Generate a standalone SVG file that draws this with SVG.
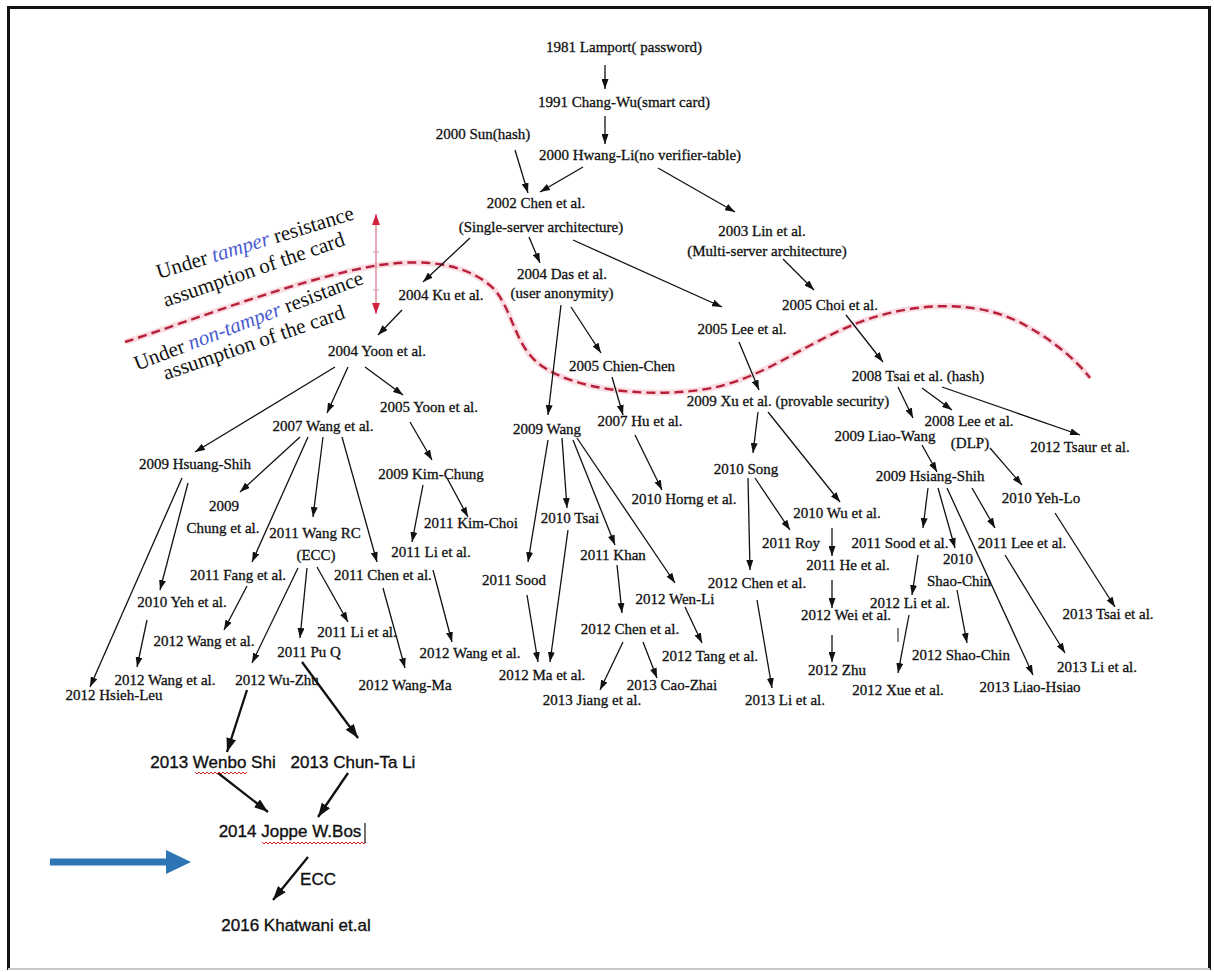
<svg xmlns="http://www.w3.org/2000/svg" width="1214" height="972" viewBox="0 0 1214 972">
  <style>
    .t { font-family: "Liberation Serif", "Times New Roman", serif; font-size: 15px; fill: #111; text-anchor: middle; stroke: #111; stroke-width: 0.3; }
    .s { font-family: "Liberation Sans", Arial, sans-serif; font-size: 17px; fill: #111; text-anchor: middle; stroke: #111; stroke-width: 0.35; }
    .lbl { font-family: "Liberation Serif", "Times New Roman", serif; font-size: 21px; fill: #111; text-anchor: middle; }
    .blue { fill: #4a5bd0; font-style: italic; }
    .c { stroke: #111; stroke-width: 1.3; fill: none; marker-end: url(#ah); }
    .ck { stroke: #111; stroke-width: 2.3; fill: none; marker-end: url(#ahk); }
    .wave { stroke: #d42020; stroke-width: 1; fill: none; }
  </style>
  <defs>
    <marker id="ah" viewBox="0 0 10 7" refX="10" refY="3.5" markerWidth="10" markerHeight="7" markerUnits="userSpaceOnUse" orient="auto">
      <path d="M0,0L10,3.5L0,7z" fill="#111"/>
    </marker>
    <marker id="ahk" viewBox="0 0 14 10" refX="14" refY="5" markerWidth="14" markerHeight="10" markerUnits="userSpaceOnUse" orient="auto">
      <path d="M0,0L14,5L0,10z" fill="#111"/>
    </marker>
    <marker id="ahr" viewBox="0 0 11 8" refX="11" refY="4" markerWidth="11" markerHeight="8" markerUnits="userSpaceOnUse" orient="auto-start-reverse">
      <path d="M0,0L11,4L0,8z" fill="#d0203a"/>
    </marker>
  </defs>

  <!-- page frame -->
  <rect x="0" y="0" width="1214" height="972" fill="#fff"/>
  <line x1="8" y1="7.5" x2="1210" y2="7.5" stroke="#111" stroke-width="3"/>
  <line x1="8.5" y1="6" x2="8.5" y2="970" stroke="#111" stroke-width="3"/>
  <line x1="1209.5" y1="6" x2="1209.5" y2="970" stroke="#111" stroke-width="3"/>
  <line x1="8" y1="969" x2="1210" y2="969" stroke="#c8c8c8" stroke-width="2"/>

  <!-- tamper-resistance boundary -->
  <g id="boundary">
    <path d="M125,342 C200,318 300,278 380,265 C430,258 470,265 495,290 C515,315 515,350 545,368 C575,388 640,398 700,390 C760,382 800,345 860,322 C920,300 985,300 1030,328 C1060,345 1080,365 1090,378" fill="none" stroke="#f6c6cf" stroke-width="6" stroke-opacity="0.6"/>
    <path d="M125,342 C200,318 300,278 380,265 C430,258 470,265 495,290 C515,315 515,350 545,368 C575,388 640,398 700,390 C760,382 800,345 860,322 C920,300 985,300 1030,328 C1060,345 1080,365 1090,378" fill="none" stroke="#b8203a" stroke-width="2.4" stroke-dasharray="9 5"/>
    <line x1="376" y1="214" x2="376" y2="314" stroke="#e07f8e" stroke-width="1.3" marker-start="url(#ahr)" marker-end="url(#ahr)"/>
    <line x1="373" y1="252" x2="379" y2="252" stroke="#c89aa0" stroke-width="1"/>
    <line x1="373" y1="290" x2="379" y2="290" stroke="#c89aa0" stroke-width="1"/>
    <text class="lbl" transform="translate(257,249) rotate(-17)">Under <tspan class="blue">tamper</tspan> resistance</text>
    <text class="lbl" transform="translate(256,276) rotate(-19)">assumption of the card</text>
    <text class="lbl" transform="translate(251,327) rotate(-21)">Under <tspan class="blue">non-tamper</tspan> resistance</text>
    <text class="lbl" transform="translate(256,349) rotate(-19)">assumption of the card</text>
  </g>

  <!-- connectors -->
  <g id="connectors">
    <line class="c" x1="605" y1="65" x2="605" y2="89"/>
    <line class="c" x1="605" y1="116" x2="605" y2="144"/>
    <line class="c" x1="515" y1="150" x2="528" y2="193"/>
    <line class="c" x1="583" y1="167" x2="540" y2="192"/>
    <line class="c" x1="658" y1="168" x2="735" y2="212"/>
    <line class="c" x1="529" y1="237" x2="540" y2="263"/>
    <line class="c" x1="573" y1="240" x2="722" y2="307"/>
    <line class="c" x1="470" y1="238" x2="423" y2="282"/>
    <line class="c" x1="783" y1="259" x2="814" y2="290"/>
    <line class="c" x1="571" y1="307" x2="601" y2="353"/>
    <line class="c" x1="561" y1="305" x2="548" y2="415"/>
    <line class="c" x1="846" y1="315" x2="883" y2="362"/>
    <line class="c" x1="739" y1="342" x2="759" y2="390"/>
    <line class="c" x1="402" y1="310" x2="378" y2="335"/>
    <line class="c" x1="335" y1="367" x2="195" y2="452"/>
    <line class="c" x1="348" y1="367" x2="327" y2="413"/>
    <line class="c" x1="365" y1="367" x2="403" y2="395"/>
    <line class="c" x1="410" y1="422" x2="432" y2="460"/>
    <line class="c" x1="300" y1="437" x2="240" y2="492"/>
    <line class="c" x1="308" y1="437" x2="252" y2="562"/>
    <line class="c" x1="323" y1="437" x2="313" y2="517"/>
    <line class="c" x1="342" y1="437" x2="377" y2="562"/>
    <line class="c" x1="447" y1="478" x2="468" y2="517"/>
    <line class="c" x1="423" y1="485" x2="412" y2="542"/>
    <line class="c" x1="188" y1="483" x2="160" y2="590"/>
    <line class="c" x1="182" y1="478" x2="90" y2="687"/>
    <line class="c" x1="247" y1="586" x2="224" y2="630"/>
    <line class="c" x1="298" y1="568" x2="252" y2="663"/>
    <line class="c" x1="307" y1="568" x2="300" y2="638"/>
    <line class="c" x1="317" y1="567" x2="348" y2="622"/>
    <line class="c" x1="147" y1="620" x2="137" y2="667"/>
    <line class="c" x1="383" y1="588" x2="405" y2="668"/>
    <line class="c" x1="433" y1="570" x2="452" y2="642"/>
    <line class="ck" x1="302" y1="662" x2="358" y2="738"/>
    <line class="ck" x1="247" y1="690" x2="227" y2="752"/>
    <line class="ck" x1="218" y1="773" x2="268" y2="812"/>
    <line class="ck" x1="348" y1="773" x2="318" y2="817"/>
    <line class="ck" x1="308" y1="857" x2="273" y2="900" stroke-width="1.8"/>
    <line class="c" x1="612" y1="377" x2="623" y2="415"/>
    <line class="c" x1="635" y1="435" x2="662" y2="490"/>
    <line class="c" x1="548" y1="440" x2="528" y2="562"/>
    <line class="c" x1="562" y1="438" x2="567" y2="508"/>
    <line class="c" x1="573" y1="440" x2="615" y2="545"/>
    <line class="c" x1="577" y1="438" x2="675" y2="583"/>
    <line class="c" x1="617" y1="565" x2="622" y2="613"/>
    <line class="c" x1="568" y1="530" x2="550" y2="662"/>
    <line class="c" x1="527" y1="595" x2="538" y2="662"/>
    <line class="c" x1="685" y1="607" x2="702" y2="643"/>
    <line class="c" x1="623" y1="642" x2="600" y2="690"/>
    <line class="c" x1="643" y1="642" x2="657" y2="678"/>
    <line class="c" x1="758" y1="412" x2="753" y2="453"/>
    <line class="c" x1="768" y1="412" x2="840" y2="502"/>
    <line class="c" x1="755" y1="478" x2="790" y2="530"/>
    <line class="c" x1="748" y1="478" x2="750" y2="570"/>
    <line class="c" x1="757" y1="600" x2="772" y2="688"/>
    <line class="c" x1="832" y1="528" x2="832" y2="556"/>
    <line class="c" x1="832" y1="580" x2="832" y2="608"/>
    <line class="c" x1="832" y1="635" x2="832" y2="662"/>
    <line class="c" x1="898" y1="387" x2="913" y2="418"/>
    <line class="c" x1="922" y1="388" x2="952" y2="410"/>
    <line class="c" x1="942" y1="387" x2="1080" y2="435"/>
    <line class="c" x1="922" y1="445" x2="937" y2="472"/>
    <line class="c" x1="990" y1="448" x2="1022" y2="485"/>
    <line class="c" x1="928" y1="488" x2="923" y2="528"/>
    <line class="c" x1="938" y1="488" x2="955" y2="548"/>
    <line class="c" x1="947" y1="488" x2="1033" y2="675"/>
    <line class="c" x1="972" y1="488" x2="995" y2="528"/>
    <line class="c" x1="918" y1="555" x2="912" y2="595"/>
    <line class="c" x1="909" y1="615" x2="898" y2="673"/>
    <line class="c" x1="957" y1="590" x2="967" y2="643"/>
    <line class="c" x1="1005" y1="555" x2="1065" y2="653"/>
    <line class="c" x1="1055" y1="513" x2="1115" y2="607"/>
    <line x1="898" y1="628" x2="898" y2="642" stroke="#111" stroke-width="1"/>
    <!-- blue pointer -->
    <rect x="50" y="858.5" width="120" height="7" fill="#2e75b6"/>
    <path d="M166,850 L191,862 L166,874 Z" fill="#2e75b6"/>
  </g>

  <!-- nodes -->
  <g id="n1981"><text class="t" x="624" y="52">1981 Lamport( password)</text></g>
  <g id="n1991"><text class="t" x="624" y="107">1991 Chang-Wu(smart card)</text></g>
  <g id="n2000sun"><text class="t" x="483" y="139">2000 Sun(hash)</text></g>
  <g id="n2000hl"><text class="t" x="640" y="160">2000 Hwang-Li(no verifier-table)</text></g>
  <g id="n2002chen"><text class="t" x="536" y="208">2002 Chen et al.</text><text class="t" x="541" y="232">(Single-server architecture)</text></g>
  <g id="n2003lin"><text class="t" x="762" y="236">2003 Lin et al.</text><text class="t" x="767" y="256">(Multi-server architecture)</text></g>
  <g id="n2004das"><text class="t" x="562" y="279">2004 Das et al.</text><text class="t" x="562" y="298">(user anonymity)</text></g>
  <g id="n2004ku"><text class="t" x="441" y="300">2004 Ku et al.</text></g>
  <g id="n2004yoon"><text class="t" x="377" y="356">2004 Yoon et al.</text></g>
  <g id="n2005choi"><text class="t" x="830" y="310">2005 Choi et al.</text></g>
  <g id="n2005lee"><text class="t" x="742" y="334">2005 Lee et al.</text></g>
  <g id="n2005chien"><text class="t" x="622" y="371">2005 Chien-Chen</text></g>
  <g id="n2008tsai"><text class="t" x="918" y="381">2008 Tsai et al. (hash)</text></g>
  <g id="n2009xu"><text class="t" x="788" y="406">2009 Xu et al. (provable security)</text></g>
  <g id="n2005yoon"><text class="t" x="429" y="412">2005 Yoon  et al.</text></g>
  <g id="n2007wang"><text class="t" x="323" y="431">2007 Wang  et al.</text></g>
  <g id="n2009hs"><text class="t" x="195" y="469">2009 Hsuang-Shih</text></g>
  <g id="n2009kim"><text class="t" x="431" y="479">2009 Kim-Chung</text></g>
  <g id="n2009chung"><text class="t" x="224" y="511">2009</text><text class="t" x="223" y="533">Chung et al.</text></g>
  <g id="n2011wangrc"><text class="t" x="315" y="538">2011 Wang RC</text><text class="t" x="316" y="560">(ECC)</text></g>
  <g id="n2011kimchoi"><text class="t" x="471" y="528">2011 Kim-Choi</text></g>
  <g id="n2011li"><text class="t" x="431" y="557">2011 Li et al.</text></g>
  <g id="n2011fang"><text class="t" x="238" y="580">2011 Fang et al.</text></g>
  <g id="n2011chen"><text class="t" x="383" y="580">2011 Chen et al.</text></g>
  <g id="n2010yeh"><text class="t" x="182" y="607">2010 Yeh et al.</text></g>
  <g id="n2011li2"><text class="t" x="357" y="637">2011 Li et al.</text></g>
  <g id="n2011pu"><text class="t" x="309" y="657">2011 Pu Q</text></g>
  <g id="n2012wang1"><text class="t" x="204" y="646">2012 Wang et al.</text></g>
  <g id="n2012wang2"><text class="t" x="165" y="685">2012 Wang et al.</text></g>
  <g id="n2012hsieh"><text class="t" x="114" y="700">2012 Hsieh-Leu</text></g>
  <g id="n2012wuzhu"><text class="t" x="277" y="685">2012 Wu-Zhu</text></g>
  <g id="n2012wangma"><text class="t" x="405" y="690">2012 Wang-Ma</text></g>
  <g id="n2012wang3"><text class="t" x="470" y="658">2012 Wang et al.</text></g>
  <g id="n2009wang"><text class="t" x="547" y="434">2009 Wang</text></g>
  <g id="n2007hu"><text class="t" x="640" y="426">2007 Hu et al.</text></g>
  <g id="n2010horng"><text class="t" x="684" y="504">2010 Horng et al.</text></g>
  <g id="n2011sood"><text class="t" x="514" y="585">2011 Sood</text></g>
  <g id="n2010tsai"><text class="t" x="570" y="523">2010 Tsai</text></g>
  <g id="n2011khan"><text class="t" x="613" y="560">2011 Khan</text></g>
  <g id="n2012wenli"><text class="t" x="675" y="604">2012 Wen-Li</text></g>
  <g id="n2012ma"><text class="t" x="542" y="680">2012 Ma et al.</text></g>
  <g id="n2012chen"><text class="t" x="630" y="634">2012 Chen et al.</text></g>
  <g id="n2012tang"><text class="t" x="710" y="661">2012 Tang et al.</text></g>
  <g id="n2013cao"><text class="t" x="672" y="690">2013 Cao-Zhai</text></g>
  <g id="n2013jiang"><text class="t" x="592" y="705">2013 Jiang et al.</text></g>
  <g id="n2013li"><text class="t" x="785" y="705">2013 Li et al.</text></g>
  <g id="n2010song"><text class="t" x="746" y="474">2010 Song</text></g>
  <g id="n2010wu"><text class="t" x="837" y="518">2010 Wu et al.</text></g>
  <g id="n2011roy"><text class="t" x="791" y="548">2011 Roy</text></g>
  <g id="n2012chen2"><text class="t" x="757" y="588">2012 Chen et al.</text></g>
  <g id="n2011he"><text class="t" x="848" y="570">2011 He et al.</text></g>
  <g id="n2012wei"><text class="t" x="846" y="620">2012 Wei et al.</text></g>
  <g id="n2012zhu"><text class="t" x="837" y="675">2012 Zhu</text></g>
  <g id="n2009liao"><text class="t" x="885" y="441">2009 Liao-Wang</text></g>
  <g id="n2008lee"><text class="t" x="969" y="426">2008  Lee et al.</text><text class="t" x="970" y="448">(DLP)</text></g>
  <g id="n2012tsaur"><text class="t" x="1080" y="452">2012 Tsaur et al.</text></g>
  <g id="n2009hs2"><text class="t" x="930" y="481">2009 Hsiang-Shih</text></g>
  <g id="n2010yehlo"><text class="t" x="1041" y="503">2010 Yeh-Lo</text></g>
  <g id="n2011sood2"><text class="t" x="900" y="548">2011 Sood et al.</text></g>
  <g id="n2010shao"><text class="t" x="958" y="564">2010</text><text class="t" x="959" y="586">Shao-Chin</text></g>
  <g id="n2011lee"><text class="t" x="1022" y="548">2011 Lee et al.</text></g>
  <g id="n2012li"><text class="t" x="910" y="608">2012 Li et al.</text></g>
  <g id="n2013tsai"><text class="t" x="1108" y="619">2013 Tsai et al.</text></g>
  <g id="n2012shao"><text class="t" x="961" y="660">2012 Shao-Chin</text></g>
  <g id="n2013li2"><text class="t" x="1097" y="672">2013 Li et al.</text></g>
  <g id="n2013liao"><text class="t" x="1030" y="692">2013 Liao-Hsiao</text></g>
  <g id="n2012xue"><text class="t" x="898" y="695">2012 Xue et al.</text></g>

  <g id="n2013shi"><text class="s" x="213" y="768">2013 Wenbo Shi</text>
    <path class="wave" d="M195,772 l2,2 l2,-2 l2,2 l2,-2 l2,2 l2,-2 l2,2 l2,-2 l2,2 l2,-2 l2,2 l2,-2 l2,2 l2,-2 l2,2 l2,-2 l2,2 l2,-2 l2,2 l2,-2 l2,2 l2,-2 l2,2 l2,-2 l2,2 l2,-2"/></g>
  <g id="n2013chunta"><text class="s" x="353" y="768">2013 Chun-Ta Li</text></g>
  <g id="n2014bos"><text class="s" x="290" y="837">2014 Joppe W.Bos</text>
    <path class="wave" d="M262,842 l2,2 l2,-2 l2,2 l2,-2 l2,2 l2,-2 l2,2 l2,-2 l2,2 l2,-2 l2,2 l2,-2 l2,2 l2,-2 l2,2 l2,-2 l2,2 l2,-2 l2,2 l2,-2 l2,2 l2,-2 l2,2 l2,-2 l2,2 l2,-2 l2,2 l2,-2 l2,2 l2,-2 l2,2 l2,-2 l2,2 l2,-2 l2,2 l2,-2 l2,2 l2,-2 l2,2 l2,-2 l2,2 l2,-2 l2,2 l2,-2 l2,2 l2,-2 l2,2 l2,-2 l2,2 l2,-2 l2,2 l2,-2"/>
    <line x1="365" y1="823" x2="365" y2="843" stroke="#111" stroke-width="1.2"/></g>
  <g id="lblecc"><text class="s" x="318" y="885" font-size="14.5">ECC</text></g>
  <g id="n2016khat"><text class="s" x="296" y="931">2016 Khatwani et.al</text></g>
</svg>
